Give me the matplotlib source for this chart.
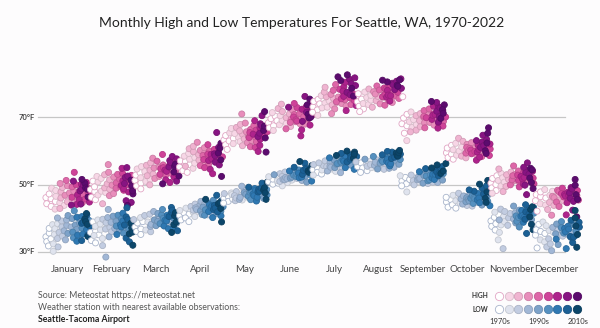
import numpy as np
import matplotlib
matplotlib.use("Agg")
from matplotlib import pyplot as plt
from matplotlib.colors import to_rgb

plt.rcParams['font.family'] = ['Lato', 'DejaVu Sans']

months = ['January', 'February', 'March', 'April', 'May', 'June', 'July',
          'August', 'September', 'October', 'November', 'December']
years = list(range(1970, 2023))

# monthly mean daily high, °F, one value per year 1970-2022
high = {
    'January': [46.1, 44.3, 43.5, 45.8, 47.2, 45.0, 44.6, 48.9, 43.8, 42.7,
                46.5, 48.2, 44.9, 47.8, 46.0, 42.9, 49.1, 45.3, 46.8, 47.5,
                48.0, 49.6, 50.3, 45.1, 47.9, 51.2, 44.6, 48.5, 47.0, 49.3,
                47.4, 48.8, 46.2, 49.9, 45.7, 53.6, 50.1, 44.8, 44.1, 46.9,
                50.6, 45.5, 48.1, 44.2, 48.7, 51.0, 49.8, 43.9, 50.4, 49.0,
                51.5, 48.6, 46.3],
    'February': [48.5, 46.2, 47.9, 51.0, 45.5, 49.3, 50.8, 46.9, 52.4, 48.0,
                 47.6, 51.8, 49.0, 52.9, 50.2, 44.3, 48.6, 51.4, 53.6, 46.7,
                 49.8, 52.2, 55.9, 47.3, 50.5, 48.9, 51.6, 49.4, 53.0, 50.9,
                 51.9, 48.3, 50.0, 53.3, 49.1, 52.7, 47.8, 50.6, 49.7, 54.8,
                 51.1, 48.7, 50.3, 52.1, 45.2, 55.0, 52.5, 44.7, 47.2, 43.8,
                 51.3, 49.6, 48.1],
    'March': [51.2, 52.8, 49.6, 53.5, 50.4, 48.7, 54.6, 52.0, 55.3, 50.9,
              53.8, 51.5, 55.7, 54.2, 52.6, 49.9, 56.4, 53.1, 54.9, 51.8,
              52.4, 55.1, 57.8, 53.6, 54.5, 56.9, 52.9, 55.8, 53.3, 54.0,
              55.5, 53.0, 54.7, 56.2, 58.9, 55.0, 52.2, 54.3, 51.4, 53.9,
              55.9, 50.6, 55.2, 57.1, 56.5, 58.3, 57.6, 51.0, 53.7, 55.4,
              56.0, 52.5, 50.2],
    'April': [55.2, 57.0, 54.1, 56.8, 53.6, 55.9, 58.4, 57.5, 59.2, 54.8,
              58.0, 56.3, 60.6, 57.2, 55.4, 59.7, 61.3, 58.8, 60.1, 56.7,
              59.4, 57.8, 62.5, 60.9, 58.3, 56.1, 57.9, 59.9, 55.6, 58.6,
              57.4, 55.0, 58.2, 60.4, 61.8, 59.0, 57.1, 59.6, 54.5, 58.9,
              57.6, 53.2, 56.6, 59.1, 58.5, 61.0, 65.4, 55.8, 59.3, 62.2,
              60.8, 57.3, 52.4],
    'May': [63.2, 64.5, 61.8, 62.9, 60.4, 63.7, 65.3, 62.1, 66.6, 64.0,
            65.1, 62.7, 66.9, 64.8, 61.5, 63.5, 65.9, 67.8, 64.3, 62.4,
            63.0, 65.6, 70.9, 68.2, 64.1, 66.3, 61.2, 65.0, 67.4, 62.6,
            64.6, 63.9, 65.4, 61.0, 66.1, 65.7, 64.9, 63.4, 68.9, 66.8,
            59.8, 61.6, 64.2, 67.1, 65.2, 68.0, 67.5, 70.4, 71.6, 66.0,
            67.3, 63.8, 59.6],
    'June': [68.3, 66.8, 69.5, 67.4, 70.2, 68.9, 66.0, 71.3, 67.7, 69.0,
             70.4, 68.1, 72.5, 69.8, 67.2, 71.6, 73.8, 70.9, 69.3, 68.6,
             68.0, 69.6, 72.0, 67.9, 70.7, 66.5, 71.0, 68.4, 70.1, 69.4,
             71.2, 70.0, 72.8, 74.0, 69.2, 68.8, 72.3, 70.5, 67.6, 73.1,
             64.4, 66.2, 68.7, 71.9, 73.4, 76.1, 72.9, 71.4, 73.6, 70.8,
             69.7, 75.3, 69.9],
    'July': [73.0, 74.6, 72.1, 75.2, 71.4, 73.9, 70.5, 74.1, 76.3, 72.7,
             74.8, 72.9, 76.0, 75.5, 77.4, 78.8, 73.6, 74.3, 72.4, 75.9,
             76.7, 74.0, 73.3, 71.0, 77.9, 75.1, 76.5, 73.7, 79.6, 74.5,
             75.7, 74.9, 77.1, 78.2, 76.9, 75.4, 79.0, 77.7, 76.1, 80.3,
             73.4, 71.9, 77.3, 81.2, 79.9, 81.6, 76.6, 79.3, 82.5, 78.5,
             76.2, 80.8, 81.9],
    'August': [74.5, 76.9, 73.2, 72.4, 75.3, 71.6, 74.0, 75.8, 73.7, 77.4,
               75.0, 76.4, 74.8, 78.3, 76.1, 72.9, 75.7, 77.0, 73.9, 76.6,
               77.5, 75.2, 76.8, 74.3, 79.2, 73.5, 78.0, 77.8, 76.2, 75.5,
               77.3, 76.0, 78.6, 79.0, 76.7, 78.2, 75.9, 77.9, 76.5, 78.8,
               74.7, 76.3, 78.5, 80.0, 79.6, 80.6, 78.1, 81.3, 80.4, 79.4,
               79.1, 80.9, 81.0],
    'September': [68.0, 76.0, 69.7, 65.2, 70.8, 67.4, 63.0, 68.6, 66.9, 71.5,
                  67.8, 69.2, 66.1, 70.4, 68.9, 65.6, 67.1, 71.0, 69.9, 68.3,
                  70.6, 68.4, 69.0, 67.6, 71.9, 69.5, 66.8, 70.2, 72.4, 68.7,
                  69.8, 70.9, 68.1, 71.3, 67.3, 70.0, 72.0, 69.3, 70.5, 73.2,
                  66.7, 70.7, 73.0, 71.7, 74.3, 68.5, 70.1, 72.7, 69.6, 73.6,
                  72.2, 71.1, 74.6],
    'October': [59.4, 60.8, 58.0, 61.6, 59.0, 57.5, 60.3, 62.2, 58.7, 59.9,
                61.1, 60.0, 58.4, 60.6, 57.9, 63.7, 59.5, 62.8, 60.9, 61.4,
                58.9, 61.9, 62.4, 60.4, 59.3, 61.0, 58.3, 60.1, 59.7, 60.7,
                60.2, 59.1, 61.3, 58.6, 60.5, 59.8, 62.0, 57.2, 59.6, 61.7,
                60.4, 58.1, 61.0, 62.6, 63.4, 64.6, 61.5, 63.0, 60.0, 59.2,
                62.3, 65.2, 66.8],
    'November': [50.4, 49.0, 51.8, 48.2, 52.6, 50.0, 47.4, 53.3, 49.6, 51.2,
                 52.0, 50.7, 54.6, 49.4, 51.5, 47.9, 52.9, 53.7, 50.9, 51.0,
                 51.7, 53.0, 52.3, 50.5, 49.9, 54.0, 51.4, 52.6, 55.5, 50.8,
                 53.4, 51.9, 50.2, 52.8, 51.3, 49.3, 54.2, 52.4, 53.9, 51.6,
                 50.1, 52.1, 49.8, 53.6, 47.0, 56.4, 55.1, 53.1, 51.9, 54.8,
                 50.6, 54.3, 48.8],
    'December': [45.2, 47.0, 42.1, 46.4, 47.8, 46.0, 44.3, 48.5, 43.9, 46.8,
                 46.2, 48.0, 45.5, 44.7, 42.6, 43.8, 46.9, 45.1, 47.4, 45.8,
                 40.9, 46.5, 47.2, 46.1, 48.3, 45.7, 44.8, 47.6, 43.5, 47.9,
                 46.7, 48.9, 47.3, 45.4, 48.2, 46.3, 47.1, 46.6, 41.0, 44.6,
                 47.7, 46.8, 47.5, 45.9, 49.1, 48.7, 42.4, 45.0, 49.8, 51.5,
                 47.0, 40.4, 45.6],
}

# monthly mean daily low, °F, one value per year 1970-2022
low = {
    'January': [34.5, 33.1, 31.8, 35.6, 37.0, 33.9, 35.2, 38.1, 32.4, 30.2,
                36.9, 38.4, 34.0, 37.5, 35.8, 31.5, 39.2, 34.7, 36.3, 37.9,
                37.4, 39.5, 40.1, 33.6, 38.0, 40.8, 35.5, 38.6, 36.7, 39.9,
                37.1, 38.9, 35.9, 39.4, 34.2, 42.2, 40.3, 33.2, 35.0, 36.6,
                40.5, 35.3, 37.6, 33.4, 38.5, 41.0, 38.8, 34.9, 39.8, 39.0,
                41.4, 38.2, 34.6],
    'February': [35.8, 33.4, 36.2, 38.9, 32.7, 35.1, 37.6, 34.0, 39.5, 36.6,
                 34.9, 38.3, 36.8, 39.7, 37.3, 31.9, 36.0, 38.7, 40.2, 28.5,
                 37.0, 38.8, 42.6, 34.5, 37.9, 36.4, 39.1, 37.2, 40.6, 38.4,
                 38.6, 35.6, 37.7, 40.9, 36.9, 39.8, 35.2, 38.1, 37.4, 41.5,
                 39.2, 36.3, 38.0, 40.4, 34.1, 43.1, 39.6, 33.0, 35.4, 32.0,
                 38.5, 37.1, 35.9],
    'March': [37.4, 38.6, 36.1, 39.0, 36.8, 35.2, 38.9, 37.9, 40.2, 36.5,
              39.3, 38.0, 40.8, 39.6, 38.3, 36.0, 41.2, 38.7, 39.9, 37.6,
              38.2, 40.4, 42.0, 38.8, 39.5, 41.4, 37.8, 40.6, 39.1, 38.5,
              40.1, 38.4, 39.7, 41.0, 42.6, 40.0, 37.7, 39.4, 36.9, 39.2,
              40.9, 37.1, 40.5, 41.8, 41.3, 43.2, 42.4, 36.3, 38.1, 40.7,
              41.6, 38.9, 35.8],
    'April': [40.8, 41.6, 39.5, 41.2, 40.1, 39.0, 42.3, 41.8, 43.0, 40.5,
              42.0, 41.4, 43.5, 42.7, 41.0, 42.9, 44.2, 42.4, 43.7, 41.7,
              43.1, 42.6, 45.0, 44.1, 42.8, 41.3, 42.2, 43.9, 41.1, 43.3,
              42.1, 40.9, 42.5, 44.5, 45.3, 43.4, 42.0, 44.0, 40.7, 43.2,
              43.6, 40.2, 42.6, 43.8, 43.0, 45.1, 46.8, 41.9, 44.3, 45.6,
              44.6, 42.9, 38.9],
    'May': [45.9, 46.4, 45.0, 45.7, 44.5, 46.1, 46.9, 45.4, 47.5, 46.3,
            47.0, 45.8, 47.9, 46.7, 45.2, 46.0, 47.3, 48.2, 46.6, 45.6,
            46.2, 47.4, 49.5, 48.4, 46.8, 47.6, 45.3, 47.1, 48.0, 45.9,
            46.5, 46.9, 47.7, 45.5, 48.1, 48.5, 47.2, 46.7, 48.8, 48.3,
            45.1, 46.2, 47.8, 48.6, 48.0, 49.2, 48.9, 50.4, 50.7, 48.4,
            49.0, 47.5, 45.6],
    'June': [50.8, 50.1, 51.6, 50.4, 51.9, 51.0, 49.6, 52.3, 50.6, 51.3,
             52.0, 51.1, 53.2, 51.8, 50.9, 52.6, 53.7, 52.4, 51.5, 51.2,
             51.4, 52.1, 53.5, 51.7, 52.7, 50.7, 52.9, 51.9, 52.5, 52.2,
             53.0, 52.8, 53.9, 54.3, 52.4, 53.1, 54.0, 53.4, 52.0, 54.6,
             51.0, 52.2, 53.0, 54.2, 55.1, 56.3, 54.8, 54.5, 55.6, 54.1,
             53.6, 56.8, 54.4],
    'July': [54.4, 55.0, 53.6, 54.8, 53.1, 54.1, 52.8, 54.6, 55.5, 53.9,
             55.2, 54.3, 55.9, 55.6, 56.4, 57.0, 54.9, 55.3, 54.0, 55.8,
             56.5, 55.4, 55.1, 53.5, 57.2, 55.7, 56.3, 55.0, 57.6, 56.0,
             56.2, 55.9, 57.0, 57.4, 56.8, 56.6, 57.9, 57.3, 56.9, 58.5,
             55.0, 54.5, 56.7, 58.8, 58.3, 59.2, 57.5, 58.0, 59.6, 58.6,
             57.8, 59.0, 59.9],
    'August': [55.3, 56.4, 54.9, 54.1, 55.8, 53.6, 55.0, 56.0, 54.7, 56.9,
               55.6, 56.2, 55.4, 57.3, 56.1, 54.5, 55.9, 56.7, 54.8, 56.5,
               57.0, 55.7, 56.6, 55.1, 57.8, 54.6, 57.1, 57.5, 56.3, 56.0,
               57.2, 56.8, 58.0, 58.3, 57.4, 57.9, 56.9, 57.6, 56.4, 58.5,
               55.5, 56.1, 57.7, 59.0, 58.8, 59.6, 58.1, 59.8, 59.3, 58.6,
               58.4, 59.4, 60.1],
    'September': [51.0, 50.2, 52.1, 49.6, 51.5, 50.5, 47.8, 51.9, 50.8, 52.6,
                  50.9, 51.7, 50.3, 52.4, 51.2, 49.9, 50.7, 52.8, 52.0, 51.4,
                  52.2, 51.6, 51.8, 50.6, 53.1, 52.3, 50.4, 52.7, 53.6, 51.3,
                  52.5, 53.2, 51.1, 53.5, 51.4, 52.9, 53.8, 52.0, 53.0, 54.4,
                  51.5, 53.0, 54.1, 53.7, 55.3, 52.6, 53.4, 54.7, 53.3, 55.8,
                  54.9, 54.0, 56.2],
    'October': [44.8, 45.5, 43.3, 46.2, 44.0, 43.0, 45.2, 46.8, 44.5, 45.0,
                46.0, 45.3, 43.8, 45.8, 43.6, 47.4, 44.7, 46.5, 45.7, 46.3,
                44.2, 46.6, 47.0, 45.4, 44.9, 46.1, 43.9, 45.6, 45.1, 46.4,
                45.9, 45.0, 46.7, 44.4, 46.2, 45.8, 47.1, 43.7, 45.5, 47.3,
                46.0, 44.6, 47.5, 48.0, 48.9, 49.6, 47.2, 48.4, 45.9, 44.7,
                47.8, 51.2, 50.1],
    'November': [39.2, 37.6, 40.3, 36.5, 41.0, 38.4, 35.8, 41.8, 38.0, 33.6,
                 40.5, 39.0, 42.7, 37.9, 40.1, 31.0, 41.4, 42.0, 39.5, 39.8,
                 40.4, 41.6, 40.9, 39.3, 38.6, 42.4, 40.0, 41.2, 43.6, 39.6,
                 42.1, 40.7, 39.1, 41.5, 40.2, 37.4, 42.9, 40.6, 42.3, 40.8,
                 38.8, 40.3, 39.7, 41.9, 35.5, 44.0, 43.2, 41.3, 40.4, 42.6,
                 38.2, 43.4, 36.6],
    'December': [35.0, 36.6, 31.2, 36.1, 38.2, 35.5, 33.6, 38.9, 33.0, 36.4,
                 35.8, 37.8, 35.1, 33.9, 31.5, 32.4, 36.5, 34.7, 37.3, 35.3,
                 30.4, 36.2, 37.1, 35.9, 38.3, 35.4, 34.3, 37.5, 32.2, 37.9,
                 36.3, 39.0, 37.2, 34.9, 38.0, 35.6, 37.0, 36.0, 31.0, 33.8,
                 37.6, 36.8, 37.4, 34.6, 39.4, 38.8, 32.8, 34.4, 40.1, 42.3,
                 37.7, 31.4, 35.2],
}

grid_temps = [30, 50, 70]
legend_decades = ['1970s', '1990s', '2010s']

# nine colour steps, one per six-year bin
high_fill = ['#ffffff', '#f7d6e6', '#f0b4d1', '#e88dbb', '#de66a8',
             '#cf4399', '#ae238c', '#871482', '#5c0b6e']
low_fill = ['#ffffff', '#dfe3ee', '#c2cce1', '#a1b7d6', '#7da2c9',
            '#5590c0', '#2f78b2', '#1b6095', '#0c466a']
high_edge0 = '#e2a6c5'
low_edge0 = '#a9b5cc'


def edge_of(fill, first_edge, k):
    if k == 0:
        return first_edge
    r, g, b = to_rgb(fill)
    return (r * 0.88, g * 0.88, b * 0.88)


def bin_of(year):
    return min((year - 1970) // 6, 8)


W, H = 600, 328
step = 44.5                      # px between month slots
per_deg = (252 - 117) / 40.0     # px per °F


def swarm_x(values):
    """Year-ordered x offsets (in px) nudged sideways so dots don't pile up."""
    placed = []
    out = []
    for i, v in enumerate(values):
        base = (years[i] - 1996) * 0.81
        py = v * per_deg
        chosen = base
        for n in range(40):
            d = (n + 1) // 2 * 0.9 * (1 if n % 2 else -1)
            cx = base + d
            if abs(cx) > 23:
                continue
            if all((cx - qx) ** 2 + (py - qy) ** 2 >= 4.6 ** 2
                   for qx, qy in placed):
                chosen = cx
                break
        placed.append((chosen, py))
        out.append(chosen / step)
    return np.array(out)


fig = plt.figure(figsize=(W / 100, H / 100), dpi=100, facecolor='#fdfcfd')

# main plot area in pixel terms: x 38..565, y 65..252
px_left, px_right, px_top, px_bottom = 38, 565, 65, 252
ax = fig.add_axes([px_left / W, 1 - px_bottom / H,
                   (px_right - px_left) / W, (px_bottom - px_top) / H])
ax.set_facecolor('none')
ax.set_xlim((px_left - 67) / step, (px_right - 67) / step)
ax.set_ylim(30, 70 + (117 - px_top) / per_deg)

for t in grid_temps:
    ax.axhline(t, color='#c6c6c6', lw=0.9, zorder=0, clip_on=False)

for spine in ax.spines.values():
    spine.set_visible(False)
ax.set_yticks([])
ax.set_xticks(range(len(months)))
ax.set_xticklabels(months, fontsize=7, color='#444444')
ax.tick_params(axis='x', length=0, pad=9)

# points sit left to right by year inside each month slot
bins = [bin_of(y) for y in years]
for m, name in enumerate(months):
    for series, fills, e0 in ((high[name], high_fill, high_edge0),
                              (low[name], low_fill, low_edge0)):
        xs = m + swarm_x(series)
        face = [fills[k] for k in bins]
        edge = [edge_of(fills[k], e0, k) for k in bins]
        ax.scatter(xs, series, s=19, c=face, edgecolors=edge,
                   linewidths=0.6, zorder=2, clip_on=False)

# overlay in pixel coordinates for title, notes and colour key
ov = fig.add_axes([0, 0, 1, 1])
ov.set_xlim(0, W)
ov.set_ylim(H, 0)
ov.axis('off')

for t in grid_temps:
    ov.text(35, 252 - (t - 30) * per_deg, '%d°F' % t, ha='right',
            va='center', fontsize=5.5, color='#444444', fontweight='bold')

ov.text(302, 23, 'Monthly High and Low Temperatures For Seattle, WA, 1970-2022',
        ha='center', va='center', fontsize=10, color='#222222')

ov.text(38, 295, 'Source: Meteostat https://meteostat.net', fontsize=6.3,
        color='#555555', va='center')
ov.text(38, 307, 'Weather station with nearest available observations:',
        fontsize=6.3, color='#555555', va='center')
ov.text(38, 320, 'Seattle-Tacoma Airport', fontsize=6.3, color='#222222',
        va='center', fontweight='bold')

ov.text(488, 296, 'HIGH', fontsize=4.8, color='#333333', ha='right',
        va='center', fontweight='bold')
ov.text(488, 309, 'LOW', fontsize=4.8, color='#333333', ha='right',
        va='center', fontweight='bold')
for k in range(9):
    cx = 499 + 9.7 * k
    ov.scatter(cx, 296, s=36, color=high_fill[k],
               edgecolors=[edge_of(high_fill[k], high_edge0, k)],
               linewidths=0.6)
    ov.scatter(cx, 309, s=36, color=low_fill[k],
               edgecolors=[edge_of(low_fill[k], low_edge0, k)],
               linewidths=0.6)
for j, lab in enumerate(legend_decades):
    ov.text(500 + 38.8 * j, 321, lab, fontsize=5.5, color='#333333',
            ha='center', va='center')

fig.savefig('out.png', dpi=100, facecolor=fig.get_facecolor())
